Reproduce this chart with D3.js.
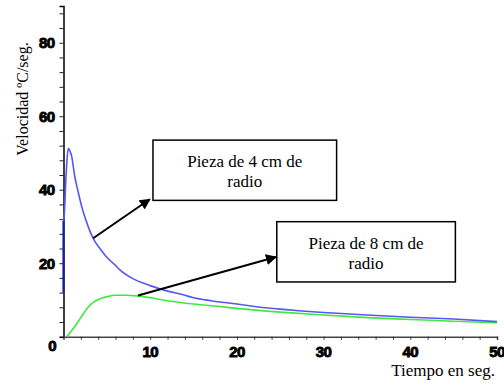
<!DOCTYPE html>
<html><head><meta charset="utf-8">
<script src="https://cdn.jsdelivr.net/npm/d3@7"></script>
<style>body{margin:0;background:#fff}svg{display:block}</style>
</head><body>
<script>
// ---- data ----
const blueT = [0, 0.02, 0.05, 0.3, 0.4, 0.55, 0.7, 0.95, 1.3, 1.7, 2.1, 2.6, 3.0, 3.6, 4.2, 5.0, 5.9, 6.5, 8, 10, 12, 13.8, 15, 17, 20, 22.5, 25, 27.5, 30, 35, 40, 45, 50];
const blueV = [12, 31.5, 32, 44, 48, 51.3, 50.8, 49, 43.6, 39.3, 35.4, 31.6, 29, 26, 24, 21.6, 19.6, 18.2, 15.8, 13.9, 12.4, 11.4, 10.6, 9.8, 8.9, 8.1, 7.5, 7.0, 6.6, 5.9, 5.3, 4.8, 4.1];
const greenT = [0.4, 0.8, 1.3, 2.0, 2.9, 3.5, 4.4, 5.2, 5.9, 7.3, 8.5, 10, 12, 15, 18, 20, 25, 30, 35, 40, 45, 50];
const greenV = [0, 1.2, 2.8, 5.2, 8.2, 9.5, 10.5, 11.0, 11.3, 11.3, 11.1, 10.6, 9.8, 8.9, 8.2, 7.7, 6.7, 5.9, 5.2, 4.7, 4.2, 3.8];
const xTickLabels = [10, 20, 30, 40, 50];
const yTickLabels = [20, 40, 60, 80];
const seriesNames = ["Pieza de 4 cm de", "radio", "Pieza de 8 cm de", "radio"];
const xTitle = "Tiempo en seg.";
const yTitle = "Velocidad ºC/seg.";
// annotation anchors in data units: [from t, from v, tip t, tip v]
const arrow1 = [3.42, 26.8, 9.95, 37.4];
const arrow2 = [8.6, 11.2, 24.5, 21.7];
// boxes in data units: [t0, t1, vTop, vBottom]
const box1 = [10.32, 31.5, 53.5, 37.1];
const box2 = [24.6, 45.2, 31.3, 14.9];

const W = 504, H = 385;
const serif = '"Liberation Serif", "Times New Roman", serif';
const sans = '"Liberation Sans", Arial, sans-serif';
const svg = d3.select("body").append("svg").attr("width", W).attr("height", H);
const x = d3.scaleLinear().domain([0, 50]).range([63.5, 497]);
const y = d3.scaleLinear().domain([0, 90]).range([336.7, 6]);

// axes
const yAxis = d3.axisLeft(y).tickValues(d3.range(4, 90, 4)).tickSize(4).tickFormat("");
const gy = svg.append("g").attr("transform", `translate(${x(0)},0)`).call(yAxis);
gy.select(".domain").attr("stroke", "#000").attr("stroke-width", 1.5);
gy.selectAll(".tick line").attr("stroke", "#222");

const xAxis = d3.axisBottom(x).tickValues(d3.range(2, 51, 2)).tickSize(3).tickFormat("");
const gx = svg.append("g").attr("transform", `translate(0,${y(0)})`).call(xAxis);
gx.select(".domain").attr("stroke", "#444").attr("stroke-width", 1.6);
gx.selectAll(".tick line").attr("stroke", "#333");

svg.append("g").selectAll("text").data(yTickLabels).join("text")
  .attr("x", x(0) - 9).attr("y", d => y(d)).attr("dy", "0.36em")
  .attr("text-anchor", "end").attr("font-family", sans).attr("font-weight", "bold").attr("font-size", 15)
  .attr("letter-spacing", -0.6).attr("stroke", "#000").attr("stroke-width", 0.9).text(d => d);
svg.append("g").selectAll("text").data(xTickLabels).join("text")
  .attr("x", d => x(d)).attr("y", y(0) + 20)
  .attr("text-anchor", "middle").attr("font-family", sans).attr("font-weight", "bold").attr("font-size", 15)
  .attr("letter-spacing", -0.6).attr("stroke", "#000").attr("stroke-width", 0.9).text(d => d);
svg.append("text").attr("x", x(0) - 11).attr("y", y(0) + 14)
  .attr("text-anchor", "middle").attr("font-family", sans).attr("font-weight", "bold").attr("font-size", 15)
  .attr("stroke", "#000").attr("stroke-width", 0.9).text(0);

// titles
svg.append("text").attr("transform", "translate(28,99) rotate(-90)")
  .attr("text-anchor", "middle").attr("font-family", serif).attr("font-size", 16).text(yTitle);
svg.append("text").attr("x", 495).attr("y", 376).attr("text-anchor", "end")
  .attr("font-family", serif).attr("font-size", 17).text(xTitle);

// curves
const line = d3.line().x(d => x(d[0])).y(d => y(d[1])).curve(d3.curveMonotoneX);
svg.append("path").datum(greenT.map((t, i) => [t, greenV[i]]))
  .attr("fill", "none").attr("stroke", "#3fe83f").attr("stroke-width", 1.6).attr("d", line);
svg.append("path").datum(blueT.map((t, i) => [t, blueV[i]]))
  .attr("fill", "none").attr("stroke", "#5656f6").attr("stroke-width", 1.6).attr("d", line);
svg.append("line").attr("x1", x(0)).attr("x2", x(0)).attr("y1", y(blueV[0])).attr("y2", y(blueV[1]))
  .attr("stroke", "#1a1aa0").attr("stroke-width", 2);

// arrows
svg.append("defs").append("marker").attr("id", "ah").attr("viewBox", "0 0 10 10")
  .attr("refX", 9).attr("refY", 5).attr("markerWidth", 5.5).attr("markerHeight", 5.5)
  .attr("markerUnits", "strokeWidth").attr("orient", "auto")
  .append("path").attr("d", "M0,0 L10,5 L0,10 z").attr("fill", "#000");
[arrow1, arrow2].forEach(a => {
  svg.append("line").attr("x1", x(a[0])).attr("y1", y(a[1])).attr("x2", x(a[2])).attr("y2", y(a[3]))
    .attr("stroke", "#000").attr("stroke-width", 2).attr("marker-end", "url(#ah)");
});

// boxes
[[box1, seriesNames[0], seriesNames[1]], [box2, seriesNames[2], seriesNames[3]]].forEach(([b, l1, l2]) => {
  const x0 = x(b[0]), x1 = x(b[1]), y0 = y(b[2]), y1 = y(b[3]);
  svg.append("rect").attr("x", x0).attr("y", y0).attr("width", x1 - x0).attr("height", y1 - y0)
    .attr("fill", "#fff").attr("stroke", "#000").attr("stroke-width", 1.5);
  const cx = (x0 + x1) / 2;
  svg.append("text").attr("x", cx).attr("y", y0 + 27).attr("text-anchor", "middle")
    .attr("font-family", serif).attr("font-size", 17).text(l1);
  svg.append("text").attr("x", cx).attr("y", y0 + 47).attr("text-anchor", "middle")
    .attr("font-family", serif).attr("font-size", 17).text(l2);
});
</script>
</body></html>
